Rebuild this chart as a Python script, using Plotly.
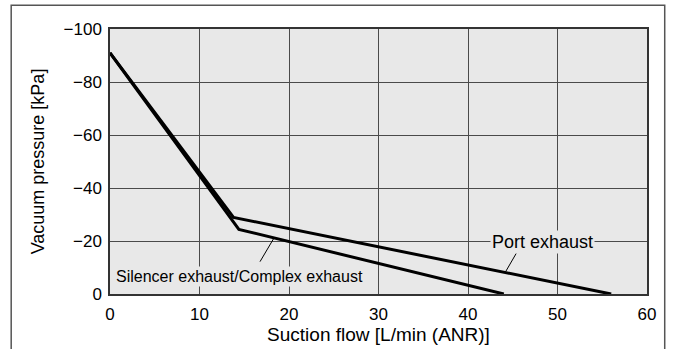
import plotly.graph_objects as go

# suction flow [L/min (ANR)] vs vacuum pressure [kPa]
port_x = [0, 13.8, 56]
port_y = [-91, -28.9, 0]
silencer_x = [0, 14.4, 44]
silencer_y = [-91, -24.4, 0]

x_ticks = [0, 10, 20, 30, 40, 50, 60]
y_ticks = [0, -20, -40, -60, -80, -100]

PLOT_BG = "#e8e8e8"
GRID = "#4a4a4a"
FONT = "Liberation Sans, Arial, Helvetica, sans-serif"

fig = go.Figure()
for xs, ys, name in [(port_x, port_y, "Port exhaust"),
                     (silencer_x, silencer_y, "Silencer exhaust/Complex exhaust")]:
    fig.add_trace(go.Scatter(x=xs, y=ys, mode="lines", name=name,
                             line=dict(color="black", width=3),
                             showlegend=False, hoverinfo="skip"))

# leader lines for the labels
leaders = [((16.76, 12.2), (18.3, 21.0)), ((45.4, 15.4), (44.2, 8.4))]
for (x0, y0), (x1, y1) in leaders:
    fig.add_shape(type="line", xref="x", yref="y", x0=x0, y0=-y0, x1=x1, y1=-y1,
                  line=dict(color="black", width=1))

fig.add_annotation(x=14.5, y=-6.5, text="Silencer exhaust/Complex exhaust",
                   showarrow=False, font=dict(size=16, color="black", family=FONT),
                   bgcolor=PLOT_BG, borderpad=1)
fig.add_annotation(x=48.3, y=-19.7, text="Port exhaust",
                   showarrow=False, font=dict(size=18, color="black", family=FONT),
                   bgcolor=PLOT_BG, borderpad=1)

# outer frame around the whole figure
fig.add_shape(type="rect", xref="paper", yref="paper", layer="below",
              x0=-0.184, x1=1.033, y0=-0.25, y1=1.09,
              line=dict(color="#555555", width=1.5))

fig.update_xaxes(range=[0, 60], tickvals=x_ticks, showgrid=True, gridcolor=GRID,
                 gridwidth=1, zeroline=False, showline=True, linecolor="#333333",
                 linewidth=1.5, mirror=True, ticks="", ticklabelstandoff=4,
                 automargin=False,
                 tickfont=dict(size=17, color="black", family=FONT),
                 title=dict(text="Suction flow [L/min (ANR)]", standoff=5,
                            font=dict(size=19, color="black", family=FONT)))
fig.update_yaxes(range=[0, -100], tickvals=y_ticks, showgrid=True, gridcolor=GRID,
                 gridwidth=1, zeroline=False, showline=True, linecolor="#333333",
                 linewidth=1.5, mirror=True, ticks="", ticklabelstandoff=3,
                 automargin=False,
                 tickfont=dict(size=17, color="black", family=FONT),
                 title=dict(text="Vacuum pressure [kPa]", standoff=14,
                            font=dict(size=18, color="black", family=FONT)))

fig.update_layout(width=676, height=349, plot_bgcolor=PLOT_BG, paper_bgcolor="white",
                  margin=dict(l=110, r=29, t=29, b=55), font=dict(family=FONT))

# page body has a default 8px margin; drop it so the figure sits at the corner
fig.write_html("out.html", config={"displayModeBar": False},
               post_script="document.body.style.margin = '0';")
